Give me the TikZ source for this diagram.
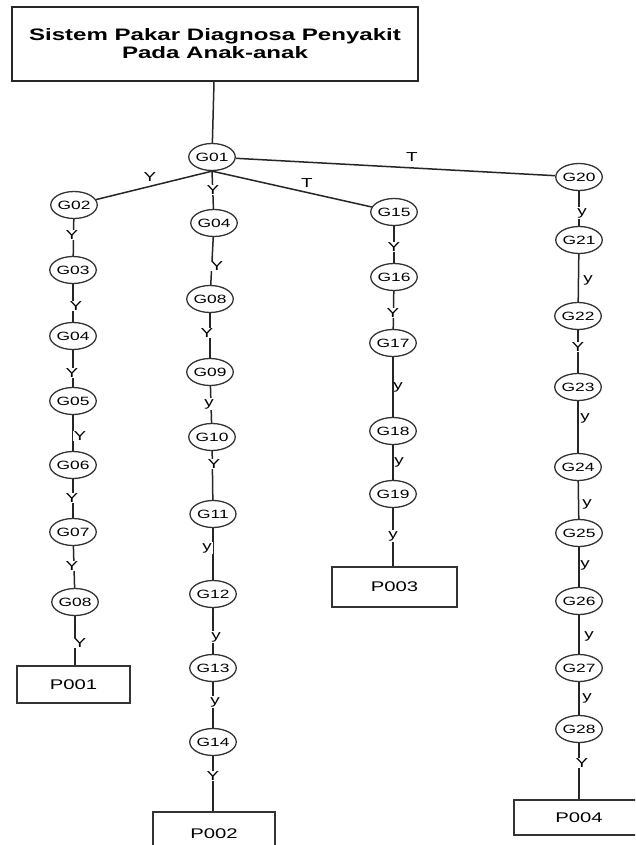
\documentclass[tikz,border=0pt]{standalone}
\usepackage{fontspec}
\setmainfont{Liberation Sans}
\newfontfamily\wide[FakeStretch=1.45]{Liberation Sans}
\usetikzlibrary{shapes.geometric}
\tikzset{
  conn/.style={draw=black!85, line width=1.5pt},
  gnode/.style={ellipse, draw=black!80, line width=1.3pt, fill=white, minimum width=46, minimum height=27, inner sep=0pt, font=\wide\fontsize{12}{12}\selectfont},
  pbox/.style={rectangle, draw=black!80, line width=1.4pt, fill=white, inner sep=0pt, font=\wide\fontsize{14}{14}\selectfont},
  labc/.style={fill=white, inner sep=1pt, font=\wide\fontsize{13}{13}\selectfont},
  labr/.style={inner sep=0pt, font=\wide\fontsize{13}{13}\selectfont},
}
\begin{document}
\begin{tikzpicture}[x=1pt,y=-1pt]
\useasboundingbox (0,0) rectangle (635,845);
\clip (0,0) rectangle (635,845);
\fill[white] (0,0) rectangle (635,845);
% title
\node[rectangle, draw=black!85, line width=1.5pt, minimum width=406, minimum height=74, align=center, inner sep=0pt,
  font=\wide\bfseries\fontsize{16.6}{18}\selectfont] (title) at (215,44) {Sistem Pakar Diagnosa Penyakit\\Pada Anak-anak};
\node[gnode] (g01) at (212,157) {G01};
\coordinate (j) at (g01.south);
% column 1
\node[gnode] (c1g02) at (74,205) {G02};
\node[gnode] (c1g03) at (73,270) {G03};
\node[gnode] (c1g04) at (73,336) {G04};
\node[gnode] (c1g05) at (73,401) {G05};
\node[gnode] (c1g06) at (73,465) {G06};
\node[gnode] (c1g07) at (73,532) {G07};
\node[gnode] (c1g08) at (75,602) {G08};
\node[pbox, minimum width=113, minimum height=37] (p001) at (73.5,684.5) {P001};
% column 2
\node[gnode] (c2g04) at (214,223) {G04};
\node[gnode] (c2g08) at (210,299) {G08};
\node[gnode] (c2g09) at (210,372) {G09};
\node[gnode] (c2g10) at (212,437) {G10};
\node[gnode] (c2g11) at (213,514) {G11};
\node[gnode] (c2g12) at (213,594) {G12};
\node[gnode] (c2g13) at (213,668) {G13};
\node[gnode] (c2g14) at (213,742) {G14};
\node[pbox, minimum width=122, minimum height=44] (p002) at (214,834) {P002};
% column 3
\node[gnode] (g15) at (394,212) {G15};
\node[gnode] (g16) at (394,277) {G16};
\node[gnode] (g17) at (393,343) {G17};
\node[gnode] (g18) at (393,431) {G18};
\node[gnode] (g19) at (393,494) {G19};
\node[pbox, minimum width=125, minimum height=40] (p003) at (394.5,587) {P003};
% column 4
\node[gnode] (g20) at (579,177) {G20};
\node[gnode] (g21) at (579,240) {G21};
\node[gnode] (g22) at (578,316) {G22};
\node[gnode] (g23) at (578,387) {G23};
\node[gnode] (g24) at (578,467) {G24};
\node[gnode] (g25) at (579,533) {G25};
\node[gnode] (g26) at (579,601) {G26};
\node[gnode] (g27) at (579,668) {G27};
\node[gnode] (g28) at (579,729) {G28};
\node[pbox, minimum width=130, minimum height=35] (p004) at (579,817.5) {P004};
% connectors
\draw[conn] (title) -- (g01);
\draw[conn] (j) -- (c1g02);
\draw[conn] (j) -- (c2g04);
\draw[conn] (j) -- (g15);
\draw[conn] (g01) -- (g20);
\draw[conn] (c1g02) -- (c1g03);
\draw[conn] (c1g03) -- (c1g04);
\draw[conn] (c1g04) -- (c1g05);
\draw[conn] (c1g05) -- (c1g06);
\draw[conn] (c1g06) -- (c1g07);
\draw[conn] (c1g07) -- (c1g08);
\draw[conn] (c1g08) -- (c1g08 |- p001.north);
\draw[conn] (c2g04) -- (c2g08);
\draw[conn] (c2g08) -- (c2g09);
\draw[conn] (c2g09) -- (c2g10);
\draw[conn] (c2g10) -- (c2g11);
\draw[conn] (c2g11) -- (c2g12);
\draw[conn] (c2g12) -- (c2g13);
\draw[conn] (c2g13) -- (c2g14);
\draw[conn] (c2g14) -- (c2g14 |- p002.north);
\draw[conn] (g15) -- (g16);
\draw[conn] (g16) -- (g17);
\draw[conn] (g17) -- (g18);
\draw[conn] (g18) -- (g19);
\draw[conn] (g19) -- (g19 |- p003.north);
\draw[conn] (g20) -- (g21);
\draw[conn] (g21) -- (g22);
\draw[conn] (g22) -- (g23);
\draw[conn] (g23) -- (g24);
\draw[conn] (g24) -- (g25);
\draw[conn] (g25) -- (g26);
\draw[conn] (g26) -- (g27);
\draw[conn] (g27) -- (g28);
\draw[conn] (g28) -- (g28 |- p004.north);
% labels (centered, white background)
\foreach \n/\x/\y/\t in {la/150/177/Y, lb/213/190/Y, lc/307/183/T,
  l1a/72/235/Y, l1b/76/306/Y, l1c/72/373/Y, l1d/80/436/Y, l1e/72/498/Y, l1f/72/566/Y, l1g/80/643/Y,
  l2a/217/266/Y, l2b/207/333/Y, l2c/209/404/y, l2d/214/464/Y, l2e/207/548/y, l2f/216/637/y, l2g/215/702/y, l2h/213/776/Y,
  l3a/394/247/Y, l3b/393/313/Y, l3c/393/536/y,
  l4a/582/213/y, l4b/578/347/Y, l4c/582/763/Y}
  \node[labc] (\n) at (\x,\y) {\t};
% labels beside the line
\foreach \n/\x/\y/\t in {ld/412/157/T,
  l3d/398/387/y, l3e/399/462/y,
  l4d/588/280/y, l4e/585/418/y, l4f/587/504/y, l4g/585/565/y, l4h/589/636/y, l4i/587/698/y}
  \node[labr] (\n) at (\x,\y) {\t};
\end{tikzpicture}
\end{document}
